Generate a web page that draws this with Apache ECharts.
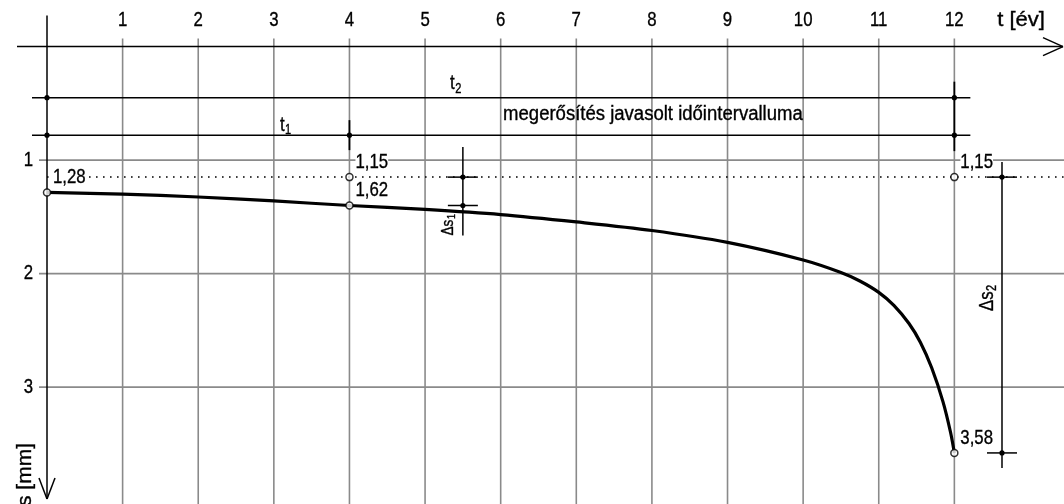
<!DOCTYPE html>
<html><head><meta charset="utf-8">
<script src="https://cdn.jsdelivr.net/npm/echarts@6/dist/echarts.min.js"></script>
<style>html,body{margin:0;padding:0;background:#fff}#c{width:1064px;height:504px}</style>
</head><body><div id="c"></div>
<script>
// ---------------- data ----------------
const curveT = [0, 1, 2, 3, 4, 5, 6, 7, 8, 9, 10, 10.5, 10.75, 11, 11.2, 11.4, 11.55, 11.7, 11.85, 11.95, 12];
const curveS = [1.285, 1.30, 1.325, 1.36, 1.40, 1.435, 1.48, 1.545, 1.62, 1.725, 1.88, 1.99, 2.065, 2.165, 2.28, 2.44, 2.605, 2.83, 3.13, 3.40, 3.58];
const xTicks = [1, 2, 3, 4, 5, 6, 7, 8, 9, 10, 11, 12];
const yTicks = [1, 2, 3];
const markT = [0, 4, 4, 12, 12];
const markS = [1.285, 1.15, 1.40, 1.15, 3.58];
const markLabels = ['1,28', '1,15', '1,62', '1,15', '3,58'];
const limitS = 1.15;
const rowT2 = [0, 12];
const rowT1 = [0, 4, 12];
const rowS = [0.45, 0.78];
const ds1 = [5.5, 1.15, 1.40];
const ds2 = [12.63, 1.15, 3.58];
const xName = 't [év]';
const yName = 's [mm]';
const rowText = 'megerősítés javasolt időintervalluma';
const xMin = 0, xMax = 13.45, yMin = 0, yMax = 4.03;

// ---------------- drawing ----------------
const FONT = '"Liberation Sans", Arial, sans-serif';
const GRID = '#8a8a8a', INK = '#000';
const SX = 0.8;
const chart = echarts.init(document.getElementById('c'));
const mctx = document.createElement('canvas').getContext('2d');
function measure(text, size) { mctx.font = size + 'px ' + FONT; return mctx.measureText(text).width; }

function seg(a, b, w) { return { type: 'line', shape: { x1: a[0], y1: a[1], x2: b[0], y2: b[1] }, style: { stroke: INK, lineWidth: w || 1.5 } }; }
function dot(p, r) { return { type: 'circle', shape: { cx: p[0], cy: p[1], r: r || 2.6 }, style: { fill: INK } }; }
function txt(x, y, text, opt) {
  opt = opt || {};
  return { type: 'text', x: x, y: y, scaleX: opt.sx || SX, rotation: opt.rot || 0,
    style: { text: text, fontFamily: FONT, fontSize: opt.size || 21, fill: INK, stroke: INK, lineWidth: 0.35,
      align: opt.align || 'left', verticalAlign: 'middle', backgroundColor: opt.bg } };
}
// main text + subscript, as a group (optionally rotated)
function subLabel(x, y, main, sub, rot, size) {
  size = size || 21;
  const w = measure(main, size) * SX;
  return { type: 'group', x: x, y: y, rotation: rot || 0, children: [
    txt(0, 0, main, { size: size }), txt(w + 0.5, size * 0.24, sub, { size: size * 0.66 }) ] };
}

function renderGrid(params, api) {
  const ch = [];
  xTicks.forEach(v => { const a = api.coord([v, yMin]), b = api.coord([v, yMax]);
    ch.push({ type: 'line', shape: { x1: a[0], y1: a[1] - 8, x2: b[0], y2: b[1] }, style: { stroke: GRID, lineWidth: 1.6 } }); });
  yTicks.forEach(v => { const a = api.coord([xMin, v]), b = api.coord([xMax, v]);
    ch.push({ type: 'line', shape: { x1: a[0] - 8, y1: a[1], x2: b[0], y2: b[1] }, style: { stroke: GRID, lineWidth: 1.6 } }); });
  return { type: 'group', children: ch };
}

function renderFrame(params, api) {
  const o = api.coord([xMin, yMin]), xe = api.coord([xMax, yMin]), ye = api.coord([xMin, yMax]);
  const ch = [];
  // axes with open arrow heads
  ch.push(seg([o[0] - 30, o[1]], [xe[0] - 1, o[1]]));
  ch.push(seg([xe[0] - 21, o[1] - 9], [xe[0] - 1, o[1]]), seg([xe[0] - 21, o[1] + 9], [xe[0] - 1, o[1]]));
  ch.push(seg([o[0], o[1] - 31], [o[0], ye[1] - 5]));
  ch.push(seg([o[0] - 8, ye[1] - 26], [o[0], ye[1] - 5]), seg([o[0] + 8, ye[1] - 26], [o[0], ye[1] - 5]));
  // tick labels
  xTicks.forEach(v => { const p = api.coord([v, yMin]); ch.push(txt(p[0], p[1] - 26, String(v), { align: 'center' })); });
  yTicks.forEach(v => { const p = api.coord([xMin, v]); ch.push(txt(p[0] - 14, p[1], String(v), { align: 'right' })); });
  // axis names
  ch.push(txt(xe[0] - 19, o[1] - 26, xName, { align: 'right', sx: 1.05 }));
  ch.push(txt(o[0] - 22, ye[1] + 2, yName, { align: 'left', sx: 1.0, rot: Math.PI / 2 }));
  // dotted limit line
  const l0 = api.coord([xMin, limitS]), l1 = api.coord([xMax, limitS]);
  ch.push({ type: 'line', shape: { x1: l0[0], y1: l0[1], x2: l1[0], y2: l1[1] }, style: { stroke: INK, lineWidth: 1.5, lineDash: [1.6, 5.4] } });
  // interval rows
  [rowT2, rowT1].forEach((row, i) => {
    const s = rowS[i];
    const a = api.coord([row[0], s]), b = api.coord([row[row.length - 1], s]);
    ch.push(seg([a[0] - 15, a[1]], [b[0] + 16, b[1]]));
    row.forEach(t => ch.push(dot(api.coord([t, s]))));
  });
  const c4 = api.coord([rowT1[1], rowS[1]]);
  ch.push(seg([c4[0], c4[1] - 15], [c4[0], c4[1] + 15], 1.8));
  const e2 = api.coord([rowT2[1], rowS[0]]), e1 = api.coord([rowT1[2], rowS[1]]);
  ch.push(seg([e2[0], e2[1] - 16], [e1[0], e1[1] + 16], 1.8));
  const lt2 = api.coord([5.33, rowS[0]]), lt1 = api.coord([3.08, rowS[1]]);
  ch.push(subLabel(lt2[0], lt2[1] - 14, 't', '2'));
  ch.push(subLabel(lt1[0], lt1[1] - 10, 't', '1'));
  const lm = api.coord([8, rowS[1]]);
  ch.push(txt(lm[0] + 1, lm[1] - 21, rowText, { align: 'center', size: 19.5, sx: 0.95 }));
  // dimension lines
  [[ds1, 30], [ds2, 15]].forEach(([d, ext]) => {
    const p = api.coord([d[0], d[1]]), q = api.coord([d[0], d[2]]);
    ch.push(seg([p[0], p[1] - ext], [q[0], q[1] + ext]));
    ch.push(seg([p[0] - 15, p[1]], [p[0] + 15, p[1]]), seg([q[0] - 15, q[1]], [q[0] + 15, q[1]]));
    ch.push(dot(p), dot(q));
  });
  const d1 = api.coord([ds1[0], ds1[2]]);
  ch.push(subLabel(d1[0] - 15, d1[1] + 30, 'Δs', '1', Math.PI / 2, 17));
  const d2a = api.coord([ds2[0], ds2[1]]), d2b = api.coord([ds2[0], ds2[2]]);
  ch.push(subLabel(d2a[0] - 15, (d2a[1] + d2b[1]) / 2 - 4, 'Δs', '2', Math.PI / 2));
  return { type: 'group', children: ch };
}

function renderMarkLabels(params, api) {
  const p = api.coord([api.value(0), api.value(1)]);
  return txt(p[0] + 6, p[1] - 15, markLabels[params.dataIndex], { bg: '#fff' });
}

chart.setOption({
  animation: false,
  backgroundColor: '#fff',
  textStyle: { fontFamily: FONT },
  grid: { left: 47, top: 46.6, right: 0, bottom: 0, outerBoundsMode: 'none', containLabel: false },
  xAxis: { type: 'value', position: 'top', min: xMin, max: xMax, interval: 1,
    axisLine: { show: false }, axisTick: { show: false }, splitLine: { show: false }, axisLabel: { show: false } },
  yAxis: { type: 'value', inverse: true, min: yMin, max: yMax, interval: 1,
    axisLine: { show: false }, axisTick: { show: false }, splitLine: { show: false }, axisLabel: { show: false } },
  series: [
    { type: 'custom', name: 'grid', z: 1, silent: true, renderItem: renderGrid, data: [[0, 0]] },
    { type: 'custom', name: 'frame', z: 3, silent: true, renderItem: renderFrame, data: [[0, 0]] },
    { type: 'line', name: 's(t)', z: 4, data: curveT.map((t, i) => [t, curveS[i]]), smooth: 0.3,
      symbol: 'none', lineStyle: { color: INK, width: 3.2 } },
    { type: 'scatter', name: 'points', z: 5, data: markT.map((t, i) => [t, markS[i]]), symbol: 'circle', symbolSize: 7,
      itemStyle: { color: '#fff', borderColor: INK, borderWidth: 1.5 } },
    { type: 'custom', name: 'labels', z: 6, silent: true, renderItem: renderMarkLabels, data: markT.map((t, i) => [t, markS[i]]) }
  ]
});
</script></body></html>
